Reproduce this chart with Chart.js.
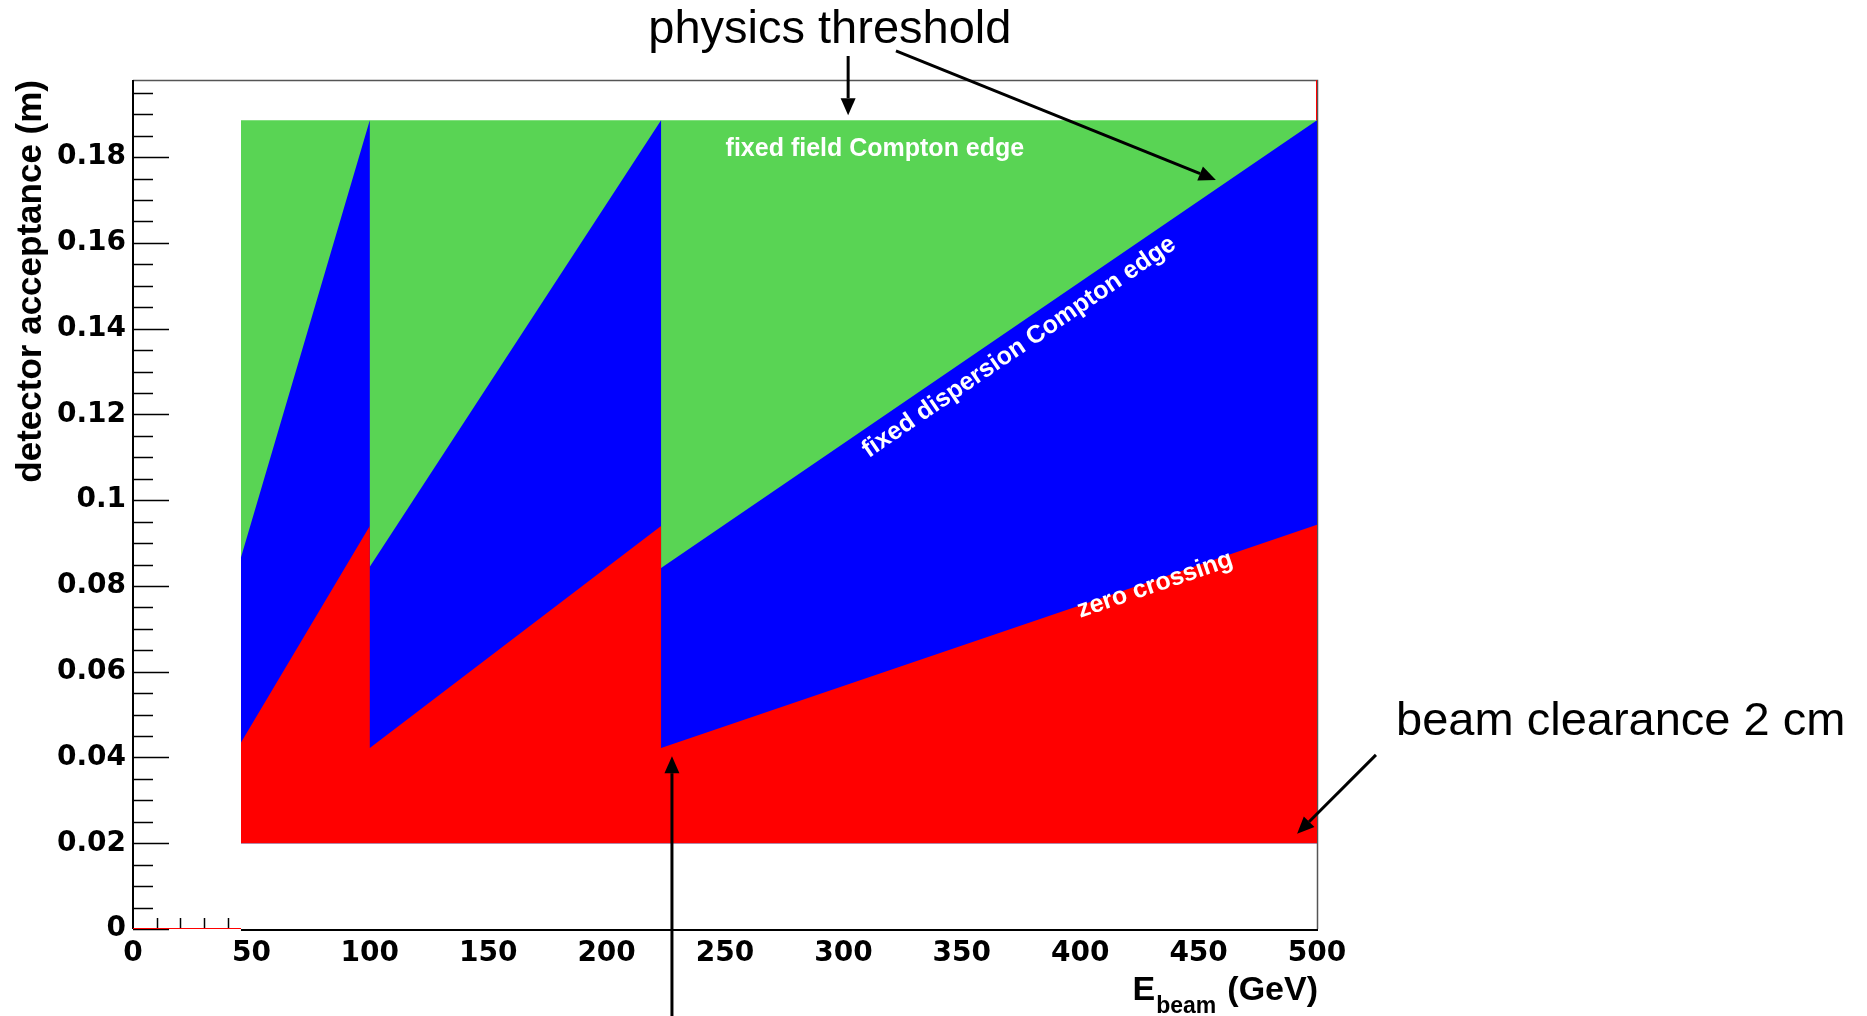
<!DOCTYPE html>
<html lang="en">
<head>
  <meta charset="UTF-8" />
  <title>Detector acceptance vs beam energy</title>
  <script src="https://cdn.jsdelivr.net/npm/chart.js"></script>
  <style>
    html, body {
      margin: 0;
      padding: 0;
      background: #fff;
    }
    canvas {
      display: block;
    }
  </style>
</head>
<body>
  <canvas id="acceptance" width="1867" height="1016"></canvas>

  <script>
    // beam energy (GeV), jumps are duplicated points
    const energies = [45.6, 100, 100, 223, 223, 500];
    // acceptance boundaries (m)
    const zeroCrossing = [0.0435, 0.0940, 0.0422, 0.0940, 0.0422, 0.0943];
    const comptonEdge = [0.0867, 0.1886, 0.0845, 0.1886, 0.0842, 0.1886];
    const physicsThreshold = [0.1886, 0.1886, 0.1886, 0.1886, 0.1886, 0.1886];
    const beamClearance = 0.02;

    // red histogram outline left over at the edges
    const outlineX = [0, 45.6, 500, 500, 500];
    const outlineY = [0, 0, null, 0.1886, 0.198];

    const yTickValues = [0, 0.02, 0.04, 0.06, 0.08, 0.1, 0.12, 0.14, 0.16, 0.18];
    const yTickLabels = ['0', '0.02', '0.04', '0.06', '0.08', '0.1', '0.12', '0.14', '0.16', '0.18'];
    const xTickValues = [0, 50, 100, 150, 200, 250, 300, 350, 400, 450, 500];
    const xTickLabels = ['0', '50', '100', '150', '200', '250', '300', '350', '400', '450', '500'];

    const FONT = "'Liberation Sans', Arial, Helvetica, sans-serif";
    const TICK_FONT = "'DejaVu Sans', 'Liberation Sans', Arial, sans-serif";

    const pts = ys => energies.map((e, i) => ({ x: e, y: ys[i] }));
    const findTick = (list, v) => list.findIndex(t => Math.abs(t - v) < 1e-6);

    function arrow(ctx, x0, y0, x1, y1) {
      const ang = Math.atan2(y1 - y0, x1 - x0);
      const head = 17, half = 7.5;
      const bx = x1 - head * Math.cos(ang), by = y1 - head * Math.sin(ang);
      ctx.beginPath();
      ctx.moveTo(x0, y0);
      ctx.lineTo(bx, by);
      ctx.stroke();
      ctx.beginPath();
      ctx.moveTo(x1, y1);
      ctx.lineTo(bx + half * Math.sin(ang), by - half * Math.cos(ang));
      ctx.lineTo(bx - half * Math.sin(ang), by + half * Math.cos(ang));
      ctx.closePath();
      ctx.fill();
    }

    // ROOT style frame and inward ticks
    const rootFrame = {
      id: 'rootFrame',
      beforeDatasetsDraw(chart) {
        const { ctx, chartArea: a, scales: { x, y } } = chart;
        ctx.save();
        ctx.strokeStyle = '#555';
        ctx.lineWidth = 1.5;
        ctx.beginPath();
        ctx.moveTo(a.left, a.top + 0.5);
        ctx.lineTo(a.right + 0.5, a.top + 0.5);
        ctx.lineTo(a.right + 0.5, a.bottom);
        ctx.stroke();

        ctx.strokeStyle = '#000';
        ctx.lineWidth = 2;
        ctx.beginPath();
        ctx.moveTo(a.left, a.top);
        ctx.lineTo(a.left, a.bottom);
        ctx.stroke();
        ctx.beginPath();
        ctx.moveTo(x.getPixelForValue(energies[0]), a.bottom + 1);
        ctx.lineTo(a.right + 1, a.bottom + 1);
        ctx.stroke();

        ctx.lineWidth = 1.5;
        y.ticks.forEach(t => {
          const py = Math.round(y.getPixelForValue(t.value)) + 0.5;
          const len = findTick(yTickValues, t.value) >= 0 ? 36 : 20;
          ctx.beginPath();
          ctx.moveTo(a.left, py);
          ctx.lineTo(a.left + len, py);
          ctx.stroke();
        });
        x.ticks.forEach(t => {
          if (t.value <= 0 || t.value >= energies[0]) return;
          const px = Math.round(x.getPixelForValue(t.value)) + 0.5;
          ctx.beginPath();
          ctx.moveTo(px, a.bottom);
          ctx.lineTo(px, a.bottom - 11);
          ctx.stroke();
        });
        ctx.restore();
      },
      afterDatasetsDraw(chart) {
        const { ctx, chartArea: a, scales: { x, y } } = chart;
        const X = v => x.getPixelForValue(v);
        const Y = v => y.getPixelForValue(v);
        ctx.save();

        // labels inside the regions
        ctx.fillStyle = '#fff';
        ctx.font = 'bold 25px ' + FONT;
        ctx.textAlign = 'center';
        ctx.textBaseline = 'middle';
        ctx.fillText('fixed field Compton edge', X(313.3), Y(0.1819));

        const along = (ys, text, ex, ev) => {
          const ang = Math.atan2(Y(ys[5]) - Y(ys[4]), X(energies[5]) - X(energies[4]));
          ctx.save();
          ctx.translate(X(ex), Y(ev));
          ctx.rotate(ang);
          ctx.fillText(text, 0, 0);
          ctx.restore();
        };
        along(comptonEdge, 'fixed dispersion Compton edge', 374.2, 0.1357);
        along(zeroCrossing, 'zero crossing', 431.6, 0.0802);

        // annotations
        ctx.fillStyle = '#000';
        ctx.strokeStyle = '#000';
        ctx.lineWidth = 3;
        ctx.textAlign = 'left';
        ctx.textBaseline = 'alphabetic';
        ctx.font = '47px ' + FONT;
        ctx.fillText('physics threshold', X(217.6), Y(0.2066));
        ctx.fillText('beam clearance 2 cm', X(533.4), Y(0.0452));

        arrow(ctx, X(302), Y(0.2036), X(302), Y(0.1898));
        arrow(ctx, X(322.2), Y(0.2048), X(457.3), Y(0.1747));
        arrow(ctx, X(227.6), Y(-0.0203), X(227.6), Y(0.0403));
        arrow(ctx, X(524.9), Y(0.0406), X(491.6), Y(0.0222));

        // x axis title with subscript
        const base = a.bottom + 71;
        ctx.font = 'bold 34px ' + FONT;
        const wUnit = ctx.measureText('(GeV)').width;
        const unitLeft = a.right + 1 - wUnit;
        ctx.fillText('(GeV)', unitLeft, base);
        ctx.font = 'bold 23px ' + FONT;
        const wSub = ctx.measureText('beam').width;
        const subLeft = unitLeft - 11 - wSub;
        ctx.fillText('beam', subLeft, base + 13);
        ctx.font = 'bold 34px ' + FONT;
        const wE = ctx.measureText('E').width;
        ctx.fillText('E', subLeft - 1 - wE, base);

        ctx.restore();
      }
    };

    const tickFont = { family: TICK_FONT, weight: 'bold', size: 28, lineHeight: 1 };

    new Chart(document.getElementById('acceptance'), {
      type: 'line',
      data: {
        datasets: [
          {
            label: 'outline',
            data: outlineX.map((e, i) => ({ x: e, y: outlineY[i] })),
            borderColor: '#ff0000',
            borderWidth: 2,
            fill: false,
            pointRadius: 0
          },
          {
            label: 'zero crossing',
            data: pts(zeroCrossing),
            backgroundColor: '#ff0000',
            fill: { value: beamClearance },
            borderWidth: 0,
            pointRadius: 0
          },
          {
            label: 'fixed dispersion Compton edge',
            data: pts(comptonEdge),
            backgroundColor: '#0000ff',
            fill: { value: beamClearance },
            borderWidth: 0,
            pointRadius: 0
          },
          {
            label: 'physics threshold',
            data: pts(physicsThreshold),
            backgroundColor: '#59d454',
            fill: { value: beamClearance },
            borderWidth: 0,
            pointRadius: 0
          }
        ]
      },
      options: {
        responsive: false,
        animation: false,
        devicePixelRatio: 1,
        layout: { padding: { left: 0, top: 80, right: 550, bottom: 0 } },
        elements: { line: { tension: 0 } },
        plugins: {
          legend: { display: false },
          tooltip: { enabled: false }
        },
        scales: {
          x: {
            type: 'linear',
            min: 0,
            max: 500,
            grid: { display: false, drawTicks: false },
            border: { display: false },
            ticks: {
              stepSize: 10,
              autoSkip: false,
              maxRotation: 0,
              includeBounds: false,
              padding: 11,
              color: '#000',
              font: tickFont,
              callback: v => {
                const i = findTick(xTickValues, v);
                return i >= 0 ? xTickLabels[i] : '';
              }
            },
            afterFit: s => { s.height = 87; }
          },
          y: {
            type: 'linear',
            min: 0,
            max: 0.198,
            grid: { display: false, drawTicks: false },
            border: { display: false },
            ticks: {
              stepSize: 0.005,
              autoSkip: false,
              includeBounds: false,
              padding: 7,
              color: '#000',
              font: tickFont,
              callback: v => {
                const i = findTick(yTickValues, v);
                return i >= 0 ? yTickLabels[i] : '';
              }
            },
            title: {
              display: true,
              text: 'detector acceptance (m)',
              align: 'end',
              color: '#000',
              font: { family: FONT, weight: 'bold', size: 35 },
              padding: { top: 10, bottom: 0 }
            },
            afterFit: s => { s.width = 133; }
          }
        }
      },
      plugins: [rootFrame]
    });
  </script>
</body>
</html>
